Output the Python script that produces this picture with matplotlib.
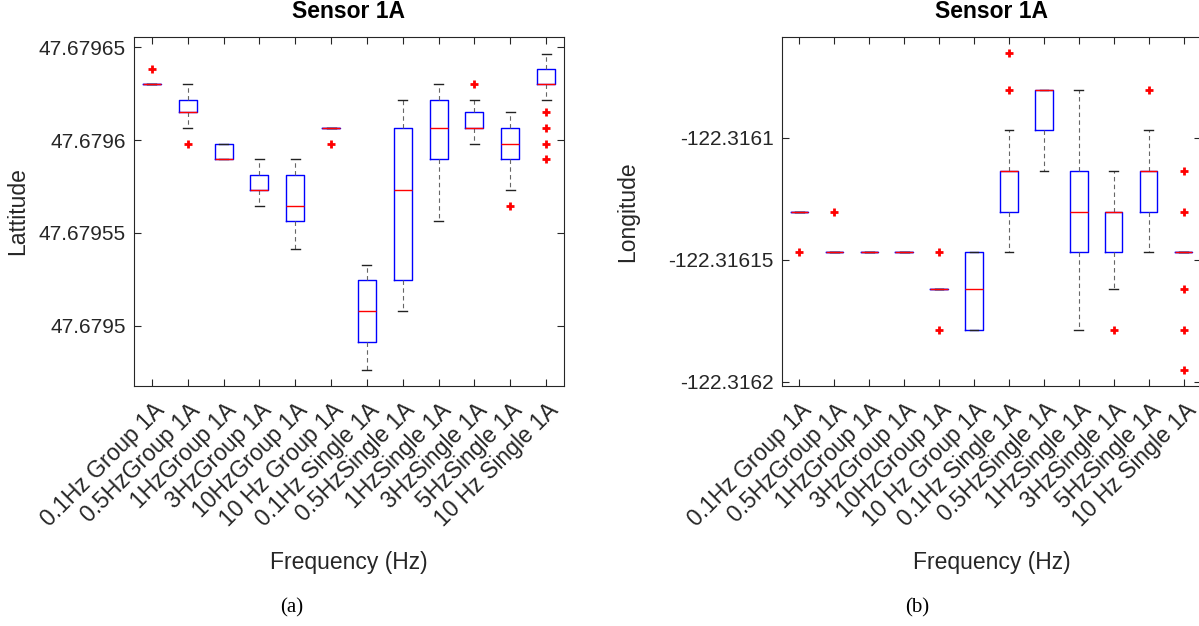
import matplotlib
matplotlib.use('Agg')
import matplotlib.pyplot as plt
from matplotlib.ticker import FixedLocator, FuncFormatter
from matplotlib.transforms import ScaledTranslation

plt.rcParams['font.family'] = ['Liberation Sans', 'DejaVu Sans']
plt.rcParams['axes.unicode_minus'] = False

labels = ['0.1Hz Group 1A', '0.5HzGroup 1A', '1HzGroup 1A', '3HzGroup 1A',
          '10HzGroup 1A', '10 Hz Group 1A', '0.1Hz Single 1A', '0.5HzSingle 1A',
          '1HzSingle 1A', '3HzSingle 1A', '5HzSingle 1A', '10 Hz Single 1A']

# latitude box stats
lat_hi = [47.6796299, 47.6796299, 47.6795980, 47.6795898, 47.6795898, 47.6796065,
          47.6795330, 47.6796215, 47.6796299, 47.6796215, 47.6796149, 47.6796464]
lat_q3 = [47.6796299, 47.6796215, 47.6795980, 47.6795814, 47.6795814, 47.6796065,
          47.6795247, 47.6796065, 47.6796215, 47.6796149, 47.6796065, 47.6796382]
lat_med = [47.6796299, 47.6796149, 47.6795898, 47.6795731, 47.6795647, 47.6796065,
           47.6795081, 47.6795731, 47.6796065, 47.6796065, 47.6795980, 47.6796299]
lat_q1 = [47.6796299, 47.6796149, 47.6795898, 47.6795731, 47.6795565, 47.6796065,
          47.6794912, 47.6795247, 47.6795898, 47.6796065, 47.6795898, 47.6796299]
lat_lo = [47.6796299, 47.6796065, 47.6795898, 47.6795647, 47.6795414, 47.6796065,
          47.6794763, 47.6795081, 47.6795565, 47.6795980, 47.6795731, 47.6796215]
lat_out = [[47.6796382], [47.6795980], [], [], [], [47.6795980],
           [], [], [], [47.6796299], [47.6795647],
           [47.6796149, 47.6796065, 47.6795980, 47.6795898]]

# longitude box stats
lon_hi = [-122.3161304, -122.3161469, -122.3161469, -122.3161469, -122.3161620, -122.3161469,
          -122.3160969, -122.3160803, -122.3160803, -122.3161137, -122.3160969, -122.3161469]
lon_q3 = [-122.3161304, -122.3161469, -122.3161469, -122.3161469, -122.3161620, -122.3161469,
          -122.3161137, -122.3160803, -122.3161137, -122.3161304, -122.3161137, -122.3161469]
lon_med = [-122.3161304, -122.3161469, -122.3161469, -122.3161469, -122.3161620, -122.3161620,
           -122.3161137, -122.3160803, -122.3161304, -122.3161304, -122.3161137, -122.3161469]
lon_q1 = [-122.3161304, -122.3161469, -122.3161469, -122.3161469, -122.3161620, -122.3161788,
          -122.3161304, -122.3160969, -122.3161469, -122.3161469, -122.3161304, -122.3161469]
lon_lo = [-122.3161304, -122.3161469, -122.3161469, -122.3161469, -122.3161620, -122.3161788,
          -122.3161469, -122.3161137, -122.3161788, -122.3161620, -122.3161469, -122.3161469]
lon_out = [[-122.3161469], [-122.3161304], [], [], [-122.3161469, -122.3161788], [],
           [-122.3160654, -122.3160803], [], [], [-122.3161788], [-122.3160803],
           [-122.3161137, -122.3161304, -122.3161620, -122.3161788, -122.3161952]]

lat_ticks = [47.6795, 47.67955, 47.6796, 47.67965]
lon_ticks = [-122.3162, -122.31615, -122.3161]

txt = '#262626'


def make_stats(lo, q1, med, q3, hi, out):
    stats = []
    for i in range(len(lo)):
        stats.append({'whislo': lo[i], 'q1': q1[i], 'med': med[i], 'q3': q3[i],
                      'whishi': hi[i], 'fliers': out[i]})
    return stats


def fmt(v, pos):
    s = '%.5f' % v
    return s.rstrip('0').rstrip('.')


def draw(ax, stats, ticks, ylim, ylabel, ylab_x):
    ax.bxp(stats, positions=range(1, 13), widths=0.5, showmeans=False,
           boxprops=dict(color='#0000ff', lw=1.0),
           medianprops=dict(color='#ff0000', lw=1.0),
           whiskerprops=dict(color='#666666', lw=0.8, ls=(0, (4, 3))),
           capprops=dict(color='#222222', lw=1.0),
           capwidths=0.25,
           flierprops=dict(marker='+', markeredgecolor='#ff0000', markersize=5.5, mew=2))
    ax.set_xlim(0.5, 12.5)
    ax.set_ylim(*ylim)
    ax.yaxis.set_major_locator(FixedLocator(ticks))
    ax.yaxis.set_major_formatter(FuncFormatter(fmt))
    ax.set_xticks(range(1, 13))
    ax.set_xticklabels(labels, rotation=45, ha='right', va='center',
                       rotation_mode='anchor', fontsize=16.5)
    ax.tick_params(direction='in', top=True, right=True, length=5, width=0.8,
                   colors=txt, pad=6)
    ax.tick_params(axis='y', labelsize=15)
    ax.tick_params(axis='x', pad=15)
    shift = ScaledTranslation(6.5 / 72, 0, fig.dpi_scale_trans)
    for lab in ax.get_xticklabels():
        lab.set_transform(lab.get_transform() + shift)
    for sp in ax.spines.values():
        sp.set_color(txt)
        sp.set_linewidth(0.8)
    ax.set_title('Sensor 1A', fontsize=16.5, fontweight='bold', color='black', pad=13.5)
    ax.set_xlabel('Frequency (Hz)', fontsize=16.5, color=txt)
    ax.xaxis.set_label_coords(0.5, -0.472)
    ax.set_ylabel(ylabel, fontsize=16.5, color=txt)
    ax.yaxis.set_label_coords(ylab_x, 0.5)


fig = plt.figure(figsize=(11.99, 6.26), dpi=100)
ax1 = fig.add_axes([134 / 1199, 1 - 386 / 626, 430 / 1199, 349 / 626])
ax2 = fig.add_axes([782 / 1199, 1 - 386 / 626, 419 / 1199, 349 / 626])

draw(ax1, make_stats(lat_lo, lat_q1, lat_med, lat_q3, lat_hi, lat_out),
     lat_ticks, (47.6794677, 47.6796554), 'Lattitude', -0.244)
draw(ax2, make_stats(lon_lo, lon_q1, lon_med, lon_q3, lon_hi, lon_out),
     lon_ticks, (-122.3162018, -122.3160587), 'Longitude', -0.340)

fig.text(292 / 1199, 1 - 608 / 626, '(a)', family=['Liberation Serif'], fontsize=15,
         ha='center', va='center', color='black')
fig.text(917 / 1199, 1 - 608 / 626, '(b)', family=['Liberation Serif'], fontsize=15,
         ha='center', va='center', color='black')

fig.savefig('out.png', dpi=100)
